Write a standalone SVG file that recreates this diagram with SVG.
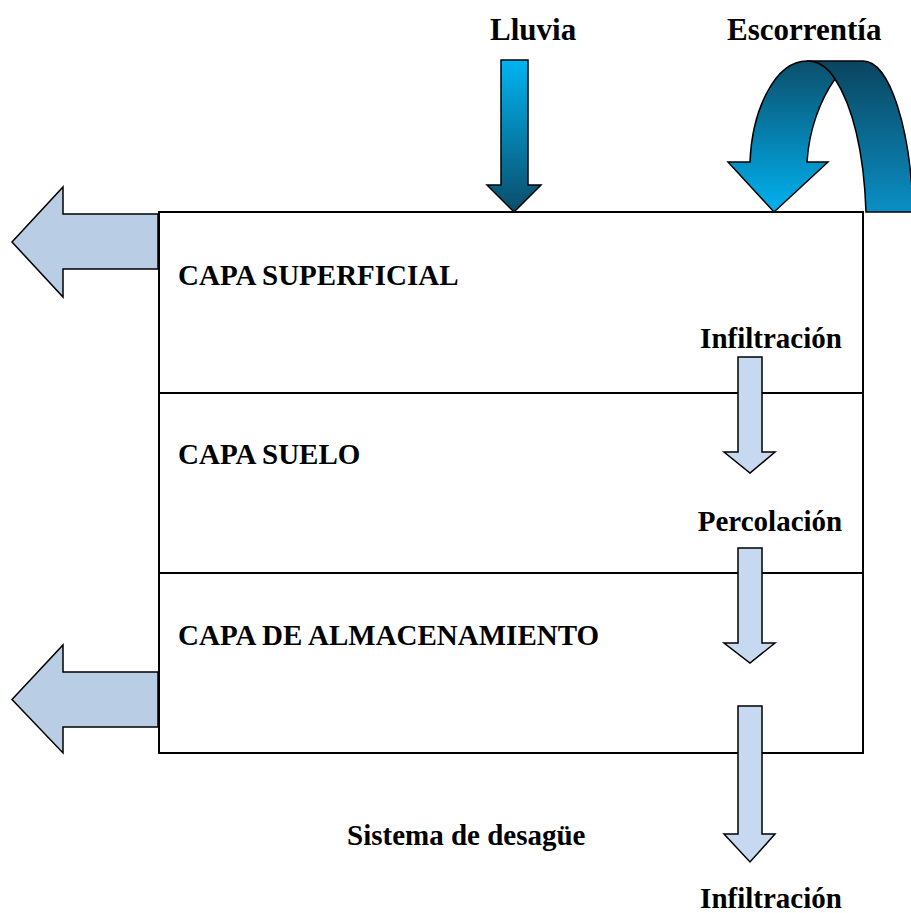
<svg xmlns="http://www.w3.org/2000/svg" width="911" height="913" viewBox="0 0 911 913">
<defs>
<linearGradient id="gLluvia" x1="0" y1="0" x2="0" y2="1">
<stop offset="0" stop-color="#00b4f2"/>
<stop offset="1" stop-color="#0b4d6a"/>
</linearGradient>
<linearGradient id="gFront" gradientUnits="userSpaceOnUse" x1="0" y1="61" x2="0" y2="212">
<stop offset="0" stop-color="#0b4f6c"/>
<stop offset="1" stop-color="#00b2f0"/>
</linearGradient>
<linearGradient id="gBack" gradientUnits="userSpaceOnUse" x1="0" y1="61" x2="0" y2="212">
<stop offset="0" stop-color="#0a4560"/>
<stop offset="1" stop-color="#0a8fc4"/>
</linearGradient>
</defs>
<style>
.lbl{font-family:"Liberation Serif","Times New Roman",serif;font-weight:bold;font-size:29px;fill:#000}
.top{font-size:31px}
.box{fill:#fff;stroke:#000;stroke-width:2}
.ln{stroke:#000;stroke-width:2;fill:none}
.la{fill:#b9cde5;stroke:#000;stroke-width:1.5;stroke-linejoin:miter}
.da{fill:#c6d9f1;stroke:#000;stroke-width:1.5}
.ga{stroke:#000;stroke-width:1.5}
</style>
<g id="layers">
<rect class="box" x="159" y="212" width="704" height="541"/>
<line class="ln" x1="159" y1="393" x2="863" y2="393"/>
<line class="ln" x1="159" y1="573" x2="863" y2="573"/>
</g>
<g id="connectors">
<path class="la" d="M158,214 L63,214 L63,187 L12,242 L63,297 L63,269 L158,269 Z"/>
<path class="la" d="M158,672 L63,672 L63,645 L12,699.5 L63,753 L63,727 L158,727 Z"/>
<path class="ga" fill="url(#gLluvia)" d="M501,60 L528,60 L528,185 L541,185 L514,212 L487,185 L501,185 Z"/>
<path class="ga" fill="url(#gBack)" d="M807,61 L863,61 C890,61 911,130 913,212 L866,212 C864,150 852,105 835,79 C828,68 818,61 807,61 Z"/>
<path class="ga" fill="url(#gFront)" d="M807,61 C818,61 828,68 835,79 C820,100 809,130 807,162 L828,162 L774,212 L728,162 L750,162 C752,110 775,61 807,61 Z"/>
<path class="da" d="M738,357 L762,357 L762,452 L775,452 L750,473 L724,452 L738,452 Z"/>
<path class="da" d="M738,548 L762,548 L762,643 L775,643 L750,663 L724,643 L738,643 Z"/>
<path class="da" d="M738,706 L762,706 L762,834 L775,834 L750,862 L724,834 L738,834 Z"/>
</g>
<g id="labels">
<text class="lbl top" x="490" y="40">Lluvia</text>
<text class="lbl top" x="727" y="40">Escorrentía</text>
<text class="lbl" x="178" y="285">CAPA SUPERFICIAL</text>
<text class="lbl" x="178" y="464">CAPA SUELO</text>
<text class="lbl" x="178" y="645">CAPA DE ALMACENAMIENTO</text>
<text class="lbl" x="771" y="348" text-anchor="middle">Infiltración</text>
<text class="lbl" x="770" y="531" text-anchor="middle">Percolación</text>
<text class="lbl" x="347" y="845">Sistema de desagüe</text>
<text class="lbl" x="771" y="908" text-anchor="middle">Infiltración</text>
</g>
</svg>
